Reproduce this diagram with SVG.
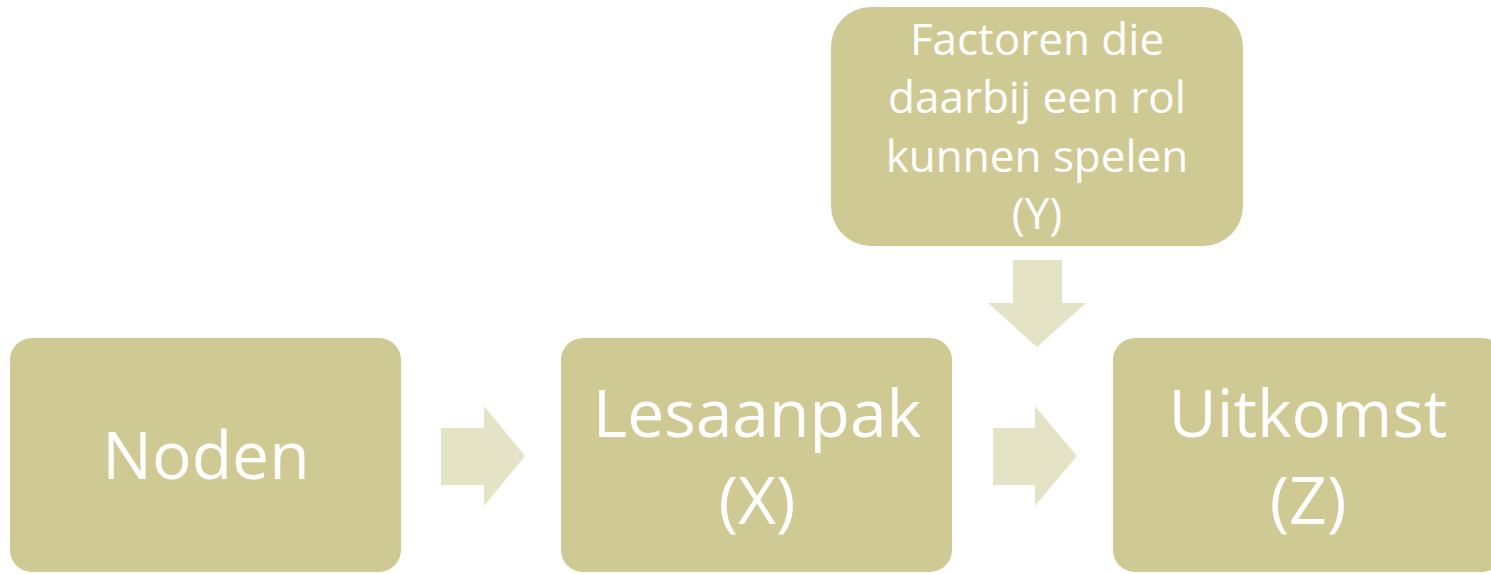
<svg xmlns="http://www.w3.org/2000/svg" width="1491" height="574" viewBox="0 0 1491 574">
<style>
.box{fill:#CFCA94;}
.arr{fill:#E5E3C6;}
.big{font-family:"Open Sans","Liberation Sans",sans-serif;font-size:66px;fill:#FFFFFF;text-anchor:middle;}
.small{font-family:"Open Sans","Liberation Sans",sans-serif;font-size:44px;fill:#FFFFFF;text-anchor:middle;}
</style>
<rect width="1491" height="574" fill="#FFFFFF"/>
<g id="connectors">
<polygon class="arr" points="441,428 484,428 484,406 525,456 484,506 484,485 441,485"/>
<polygon class="arr" points="993,428 1035,428 1035,406 1077,456 1035,506 1035,485 993,485"/>
<polygon class="arr" points="1013,260 1062,260 1062,303 1086,303 1037,347 988,303 1013,303"/>
</g>
<g id="node-noden">
<rect class="box" x="10" y="338" width="391" height="234" rx="22"/>
<text class="big" x="206" y="479">Noden</text>
</g>
<g id="node-lesaanpak">
<rect class="box" x="561" y="338" width="391" height="234" rx="22"/>
<text class="big" x="757" y="437">Lesaanpak</text>
<text class="big" x="757" y="524">(X)</text>
</g>
<g id="node-uitkomst">
<rect class="box" x="1113" y="338" width="391" height="234" rx="22"/>
<text class="big" x="1308" y="437">Uitkomst</text>
<text class="big" x="1308" y="524">(Z)</text>
</g>
<g id="node-factoren">
<rect class="box" x="831" y="7" width="412" height="239" rx="40"/>
<text class="small" x="1037" y="55">Factoren die</text>
<text class="small" x="1037" y="113">daarbij een rol</text>
<text class="small" x="1037" y="172">kunnen spelen</text>
<text class="small" x="1037" y="229">(Y)</text>
</g>
</svg>
